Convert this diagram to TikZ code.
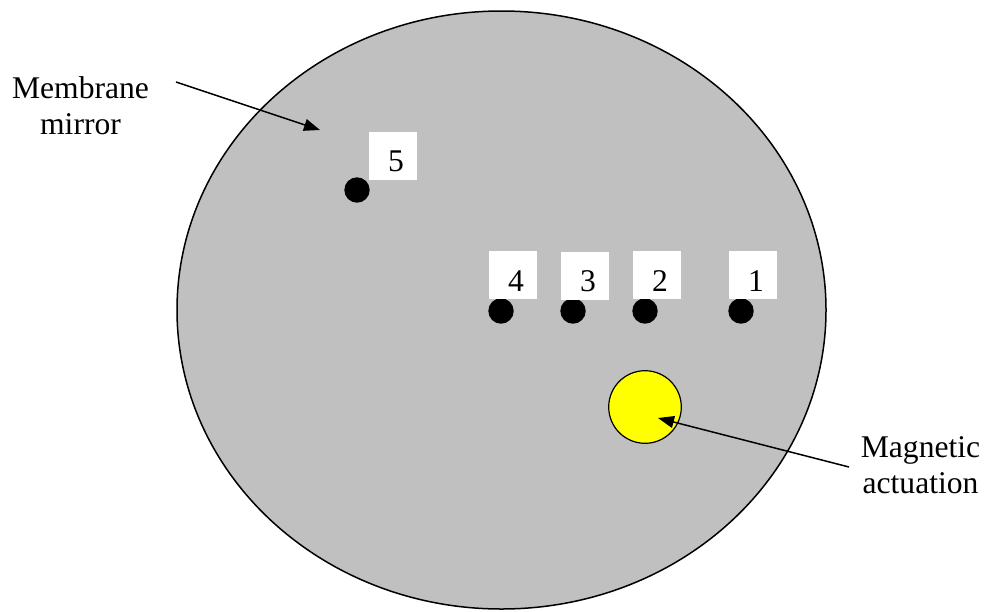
\documentclass[tikz,border=0pt]{standalone}
\usepackage{fontspec}
\setmainfont{Liberation Serif}
\usetikzlibrary{arrows.meta,shapes.geometric}
\definecolor{mirrorgray}{HTML}{C0C0C0}
\definecolor{magyellow}{HTML}{FFFF00}
\begin{document}
\begin{tikzpicture}[x=1pt,y=-1pt,
  font=\fontsize{31.6pt}{36pt}\selectfont,
  mirror/.style={ellipse,draw=black,line width=1.5pt,fill=mirrorgray,
    minimum width=649pt,minimum height=598pt,inner sep=0pt},
  actuator/.style={circle,draw=black,line width=1.2pt,fill=magyellow,
    minimum size=72.6pt,inner sep=0pt},
  sensor/.style={circle,fill=black,minimum size=25.4pt,inner sep=0pt},
  numbox/.style={fill=white,minimum width=48pt,minimum height=48pt,
    inner sep=0pt,text height=40pt,text depth=8pt,
    execute at begin node=\hspace*{6pt}},
  caption/.style={align=center,inner sep=0pt,anchor=north},
  pointer/.style={line width=1.5pt,-{Triangle[length=16pt,width=12pt]}}]

  % page frame
  \useasboundingbox (0,0) rectangle (987,611);

  % membrane mirror
  \node[mirror] (membrane) at (501.5,310) {};

  % measurement points and their numbers
  \node[sensor] (p5) at (357,190) {};
  \node[sensor] (p4) at (501,311) {};
  \node[sensor] (p3) at (573,311) {};
  \node[sensor] (p2) at (645,311) {};
  \node[sensor] (p1) at (741,311) {};
  \node[numbox] (n5) at (393,155.5) {5};
  \node[numbox] (n4) at (513,275) {4};
  \node[numbox] (n3) at (585,275.5) {3};
  \node[numbox] (n2) at (657,275) {2};
  \node[numbox] (n1) at (753,275) {1};

  % magnetic actuator
  \node[actuator] (act) at (645,407) {};

  % labels
  \node[caption] (lmirror) at (80.5,76.5) {Membrane\\mirror};
  \node[caption] (lact) at (920.5,436.5) {Magnetic\\actuation};

  % pointers
  \coordinate (mtail) at (176,82);
  \coordinate (mtip) at (320,130);
  \coordinate (atail) at (849,467);
  \coordinate (atip) at (658,418);
  \draw[pointer] (mtail) -- (mtip);
  \draw[pointer] (atail) -- (atip);
\end{tikzpicture}
\end{document}
